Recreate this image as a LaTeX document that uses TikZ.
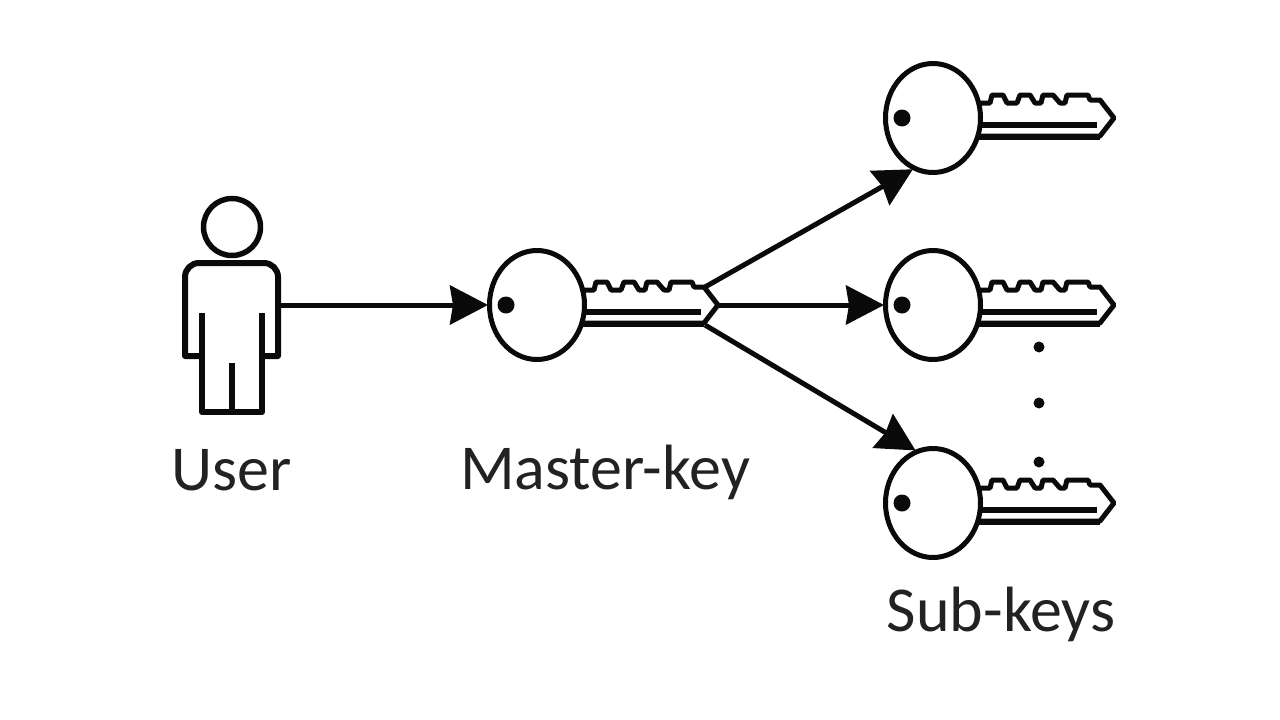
\documentclass[tikz,border=0pt]{standalone}
\usepackage{fontspec}
\setmainfont{Carlito}
\usetikzlibrary{arrows.meta,shapes.geometric}
\definecolor{inkline}{HTML}{0A0A0A}
\definecolor{labeltext}{HTML}{222222}
\tikzset{
  keyline/.style={draw=inkline,line width=5pt,line join=round},
  keyhead/.style={keyline,ellipse,fill=white,inner sep=0pt,minimum width=95pt,minimum height=109pt},
  keylabel/.style={text=labeltext,inner sep=0pt,font=\fontsize{64}{66}\selectfont},
  flow/.style={-{Stealth[length=38pt,width=39pt,inset=3pt]},draw=inkline,line width=5pt,shorten >=-1pt},
  ddot/.style={circle,fill=inkline,inner sep=0pt,minimum size=11pt},
  keyicon/.pic={
    \draw[keyline] (45,-15) -- (57,-15) -- (59,-23) -- (70,-23) -- (74,-15) -- (84,-15) -- (87,-23) -- (97,-23)
      -- (102,-15) -- (108,-15) -- (110,-23) -- (120,-23) -- (127,-15) -- (132,-15) -- (134,-23) -- (155,-23)
      -- (157,-18) -- (167,-18) -- (181,0) -- (167,18) -- (45,18);
    \draw[keyline,line width=6pt] (45,7) -- (164,7);
    \draw[keyline,line width=6pt] (45,19) -- (167,19);
    \node[keyhead] (-head) at (0,0) {};
    \node[ddot,minimum size=17pt] (-hole) at (-31,0) {};
    \coordinate (-tip) at (181,0);
    \coordinate (-upper) at (168,-18);
    \coordinate (-lower) at (168,20);
  }
}
\begin{document}
\begin{tikzpicture}[x=1pt,y=-1pt]
\useasboundingbox (0,0) rectangle (1280,720);
% user
\node[keyline,line width=5.5pt,circle,inner sep=0pt,minimum size=57pt] (userhead) at (232,227) {};
\draw[keyline,line width=6pt] (202,356) -- (185,356) [rounded corners=14pt] -- (185,263) -- (278,263) [sharp corners] -- (278,356) -- (262,356);
\draw[keyline,line width=6pt] (202,313) -- (202,412) -- (262,412) -- (262,313);
\draw[keyline,line width=6pt] (232,363) -- (232,412);
\coordinate (user) at (278,305);
% keys
\pic (master) at (537,305) {keyicon};
\pic (subA) at (933,118) {keyicon};
\pic (subB) at (933,305) {keyicon};
\pic (subC) at (933,503) {keyicon};
% arrows
\draw[flow] (user) -- (master-head);
\draw[flow] (master-upper) -- (subA-head.248);
\draw[flow] (master-tip) -- (subB-head);
\draw[flow] (master-lower) -- (subC-head.109);
% dots
\node[ddot] (dotA) at (1039,347) {};
\node[ddot] (dotB) at (1039,403) {};
\node[ddot] (dotC) at (1039,462) {};
% labels
\node[keylabel] (userlabel) at (232,470) {User};
\node[keylabel] (masterlabel) at (605,472) {Master-key};
\node[keylabel] (sublabel) at (1001,614) {Sub-keys};
\end{tikzpicture}
\end{document}
